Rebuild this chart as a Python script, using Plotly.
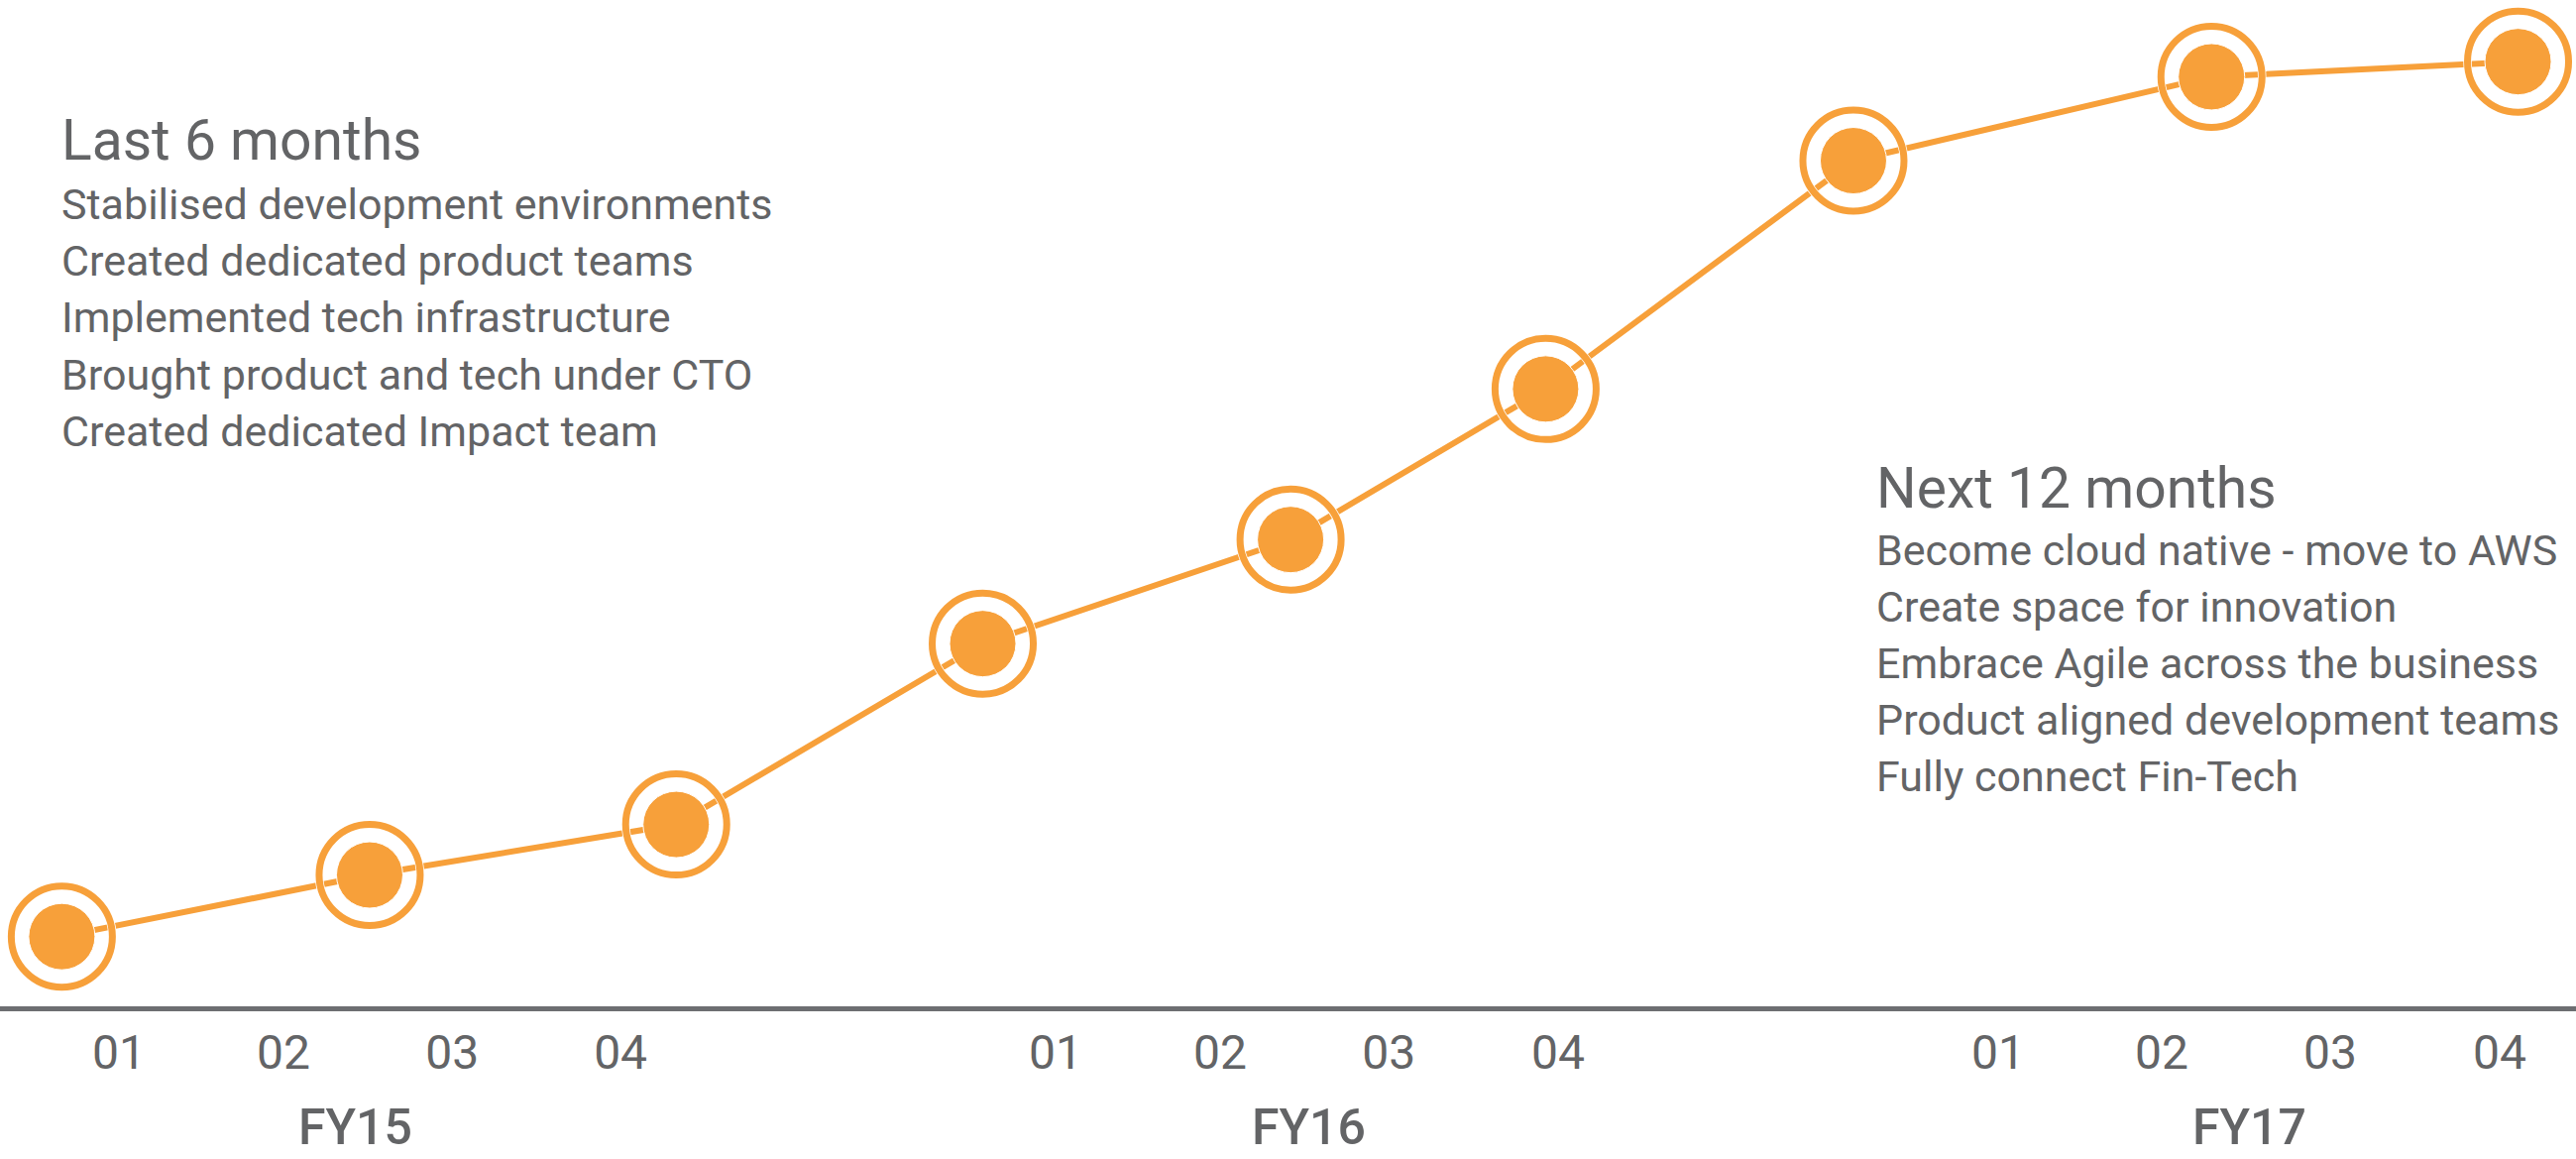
import plotly.graph_objects as go

# Progress along the timeline (x: position along the timeline, 0-100; y: maturity score, 0-100)
timeline_pos = [2.4, 14.35, 26.25, 38.15, 50.1, 60.0, 71.95, 85.85, 97.75]
maturity = [7.3, 13.4, 18.4, 36.3, 46.6, 61.5, 84.1, 92.4, 93.9]

# Quarter ticks and financial-year labels
quarter_pos = [4.62, 11.0, 17.55, 24.09, 40.98, 47.36, 53.91, 60.48, 77.57, 83.92, 90.46, 97.04]
quarter_labels = ["01", "02", "03", "04"] * 3
year_pos = [13.81, 50.79, 87.34]
year_labels = ["FY15", "FY16", "FY17"]

past_title = "Last 6 months"
past_items = [
    "Stabilised development environments",
    "Created dedicated product teams",
    "Implemented tech infrastructure",
    "Brought product and tech under CTO",
    "Created dedicated Impact team",
]
next_title = "Next 12 months"
next_items = [
    "Become cloud native - move to AWS",
    "Create space for innovation",
    "Embrace Agile across the business",
    "Product aligned development teams",
    "Fully connect Fin-Tech",
]

ORANGE = "#f7a03a"
GREY = "#636466"
AXIS_GREY = "#6d6e71"
FONT = "Roboto, 'Open Sans', sans-serif"

W, H = 2599, 1169
PLOT_H = 1015  # plot area height in px (axis line drawn just below it)
Y_MIN = 0.4    # keeps y=0 level with the axis line


def py_to_paper(py):
    return (PLOT_H - py) / PLOT_H


fig = go.Figure()

# connecting line
fig.add_trace(go.Scatter(
    x=timeline_pos, y=maturity, mode="lines",
    line=dict(color=ORANGE, width=6), hoverinfo="skip", cliponaxis=False,
))
# thin white halo behind the rings
fig.add_trace(go.Scatter(
    x=timeline_pos, y=maturity, mode="markers",
    marker=dict(symbol="circle-open", size=102, color="white", line=dict(width=8.5)),
    hoverinfo="skip", cliponaxis=False,
))
# outer rings
fig.add_trace(go.Scatter(
    x=timeline_pos, y=maturity, mode="markers",
    marker=dict(symbol="circle-open", size=102, color=ORANGE, line=dict(width=7)),
    hoverinfo="skip", cliponaxis=False,
))
# filled centres
fig.add_trace(go.Scatter(
    x=timeline_pos, y=maturity, mode="markers",
    marker=dict(symbol="circle", size=67, color=ORANGE, line=dict(color="white", width=1)),
    hoverinfo="skip", cliponaxis=False,
))

annotations = []

# financial-year labels under the quarter ticks
for xp, lab in zip(year_pos, year_labels):
    annotations.append(dict(
        x=xp, y=py_to_paper(1137), xref="x", yref="paper",
        text=lab, showarrow=False, xanchor="center", yanchor="middle",
        font=dict(family=FONT, size=50, color=GREY, weight=500),
    ))


def text_block(x_px, title, title_y, items, first_y, step):
    annotations.append(dict(
        x=x_px / W, y=py_to_paper(title_y), xref="paper", yref="paper",
        text=title, showarrow=False, xanchor="left", yanchor="middle",
        font=dict(family=FONT, size=57, color=GREY, weight=400),
    ))
    for i, item in enumerate(items):
        annotations.append(dict(
            x=x_px / W, y=py_to_paper(first_y + i * step), xref="paper", yref="paper",
            text=item, showarrow=False, xanchor="left", yanchor="middle",
            font=dict(family=FONT, size=43, color=GREY, weight=400),
        ))


text_block(60, past_title, 142, past_items, 206, 57.2)
text_block(1891, next_title, 492, next_items, 555, 57.0)

fig.update_layout(
    width=W, height=H,
    margin=dict(l=0, r=0, t=0, b=H - PLOT_H),
    paper_bgcolor="white", plot_bgcolor="white",
    showlegend=False,
    annotations=annotations,
    xaxis=dict(
        range=[0, 100], showgrid=False, zeroline=False,
        showline=True, linecolor=AXIS_GREY, linewidth=5,
        tickmode="array", tickvals=quarter_pos, ticktext=quarter_labels,
        ticks="", ticklabelstandoff=0,
        tickfont=dict(family=FONT, size=48, color=GREY, weight=400),
        fixedrange=True,
    ),
    yaxis=dict(range=[Y_MIN, 100], visible=False, fixedrange=True),
)

fig.write_html("out.html")
